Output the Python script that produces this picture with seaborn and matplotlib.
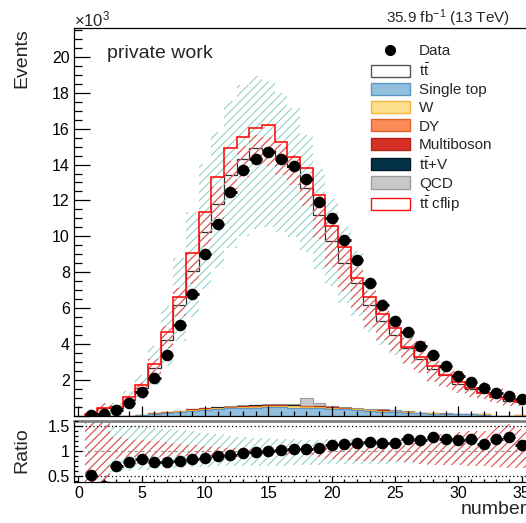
import numpy as np
import matplotlib
matplotlib.use("Agg")
import matplotlib.pyplot as plt
import seaborn as sns
from matplotlib.patches import Patch
from matplotlib.lines import Line2D
from matplotlib.ticker import MultipleLocator, FuncFormatter, FixedLocator

# ---- binning: one bin per integer value ----
bin_centers = np.arange(1, 36)
bin_edges = np.arange(0.5, 36.0, 1.0)

# ---- observed events per bin ----
data = [50, 120, 330, 720, 1330, 2100, 3400, 5050, 6800, 9000,
        10700, 12450, 13700, 14300, 14700, 14300, 13900, 13200, 11900, 11000,
        9800, 8670, 7400, 6200, 5300, 4700, 3900, 3400, 2800, 2200,
        1900, 1550, 1300, 1100, 930]

# ---- simulated backgrounds (stacked, bottom to top) ----
single_top = [0, 0, 0, 5, 40, 110, 170, 240, 300, 350,
              390, 420, 450, 470, 480, 480, 470, 460, 440, 400,
              370, 330, 280, 250, 200, 180, 140, 130, 120, 100,
              90, 80, 0, 0, 0]
w_jets = [0, 0, 0, 0, 5, 10, 15, 20, 25, 30,
          35, 40, 45, 50, 55, 60, 60, 60, 55, 50,
          40, 35, 30, 25, 20, 15, 12, 10, 8, 6,
          5, 4, 0, 0, 40]
drell_yan = [0, 0, 0, 0, 10, 20, 25, 30, 30, 30,
             30, 30, 30, 30, 30, 30, 25, 25, 20, 20,
             20, 20, 25, 25, 15, 10, 10, 5, 5, 0,
             0, 0, 0, 0, 0]
multiboson = [0, 0, 0, 0, 0, 5, 5, 10, 10, 15,
              15, 20, 20, 20, 20, 20, 20, 15, 15, 15,
              10, 10, 10, 10, 5, 5, 5, 0, 0, 0,
              0, 0, 0, 0, 0]
ttv = [0, 0, 0, 0, 0, 0, 5, 5, 10, 10,
       15, 15, 20, 20, 20, 20, 20, 15, 15, 15,
       10, 10, 10, 5, 5, 5, 0, 0, 0, 0,
       0, 0, 0, 0, 0]
qcd = [0, 0, 0, 0, 0, 0, 0, 0, 0, 0,
       0, 10, 20, 30, 50, 60, 100, 450, 200, 60,
       60, 40, 50, 60, 80, 40, 20, 10, 10, 0,
       0, 0, 0, 0, 0]
ttbar = [100, 420, 460, 905, 1505, 2515, 4030, 5895, 7725, 9815,
         11315, 12865, 13715, 14280, 14145, 13730, 13155, 11675, 10455, 9190,
         7990, 6955, 5795, 4925, 4175, 3545, 3013, 2445, 2117, 1694,
         1435, 1266, 1040, 850, 790]

# ---- alternative ttbar prediction (charge flip) ----
ttbar_cflip = [120, 450, 500, 1030, 1700, 2900, 4700, 6650, 9050, 11350,
               13300, 14900, 15550, 16050, 16200, 15250, 14400, 13800, 12300, 10600,
               9400, 7700, 6600, 5700, 4900, 3850, 3300, 2800, 2300, 1900,
               1550, 1280, 1050, 930, 800]

# ---- data / prediction ----
ratio = [0.53, 0.30, 0.71, 0.79, 0.85, 0.79, 0.79, 0.80, 0.84, 0.87,
         0.91, 0.93, 0.97, 0.99, 1.00, 1.03, 1.04, 1.05, 1.07, 1.12,
         1.15, 1.17, 1.19, 1.17, 1.17, 1.24, 1.23, 1.29, 1.24, 1.22,
         1.24, 1.15, 1.25, 1.29, 1.12]

# ---- relative uncertainty bands (edges relative to prediction) ----
red_band_hi = [2.00, 1.70, 1.29, 1.25, 1.22, 1.20, 1.18, 1.15, 1.12, 1.10,
               1.08, 1.06, 1.05, 1.05, 1.05, 1.05, 1.05, 1.05, 1.06, 1.10,
               1.12, 1.12, 1.12, 1.12, 1.12, 1.15, 1.30, 1.35, 1.35, 1.38,
               1.40, 1.40, 1.50, 1.55, 1.45]
red_band_lo = [0.30, 0.30, 0.85, 0.88, 0.88, 0.88, 0.89, 0.90, 0.91, 0.92,
               0.93, 0.93, 0.93, 0.94, 0.94, 0.93, 0.93, 0.92, 0.88, 0.85,
               0.82, 0.80, 0.80, 0.80, 0.80, 0.78, 0.74, 0.72, 0.72, 0.72,
               0.70, 0.70, 0.68, 0.66, 0.66]
teal_band_hi = [1.60, 1.60, 1.52, 1.50, 1.48, 1.46, 1.44, 1.42, 1.40, 1.37,
                1.34, 1.31, 1.29, 1.27, 1.26, 1.25, 1.24, 1.23, 1.23, 1.24,
                1.24, 1.24, 1.23, 1.23, 1.23, 1.24, 1.25, 1.26, 1.27, 1.28,
                1.28, 1.29, 1.30, 1.30, 1.30]
teal_band_lo = [0.40, 0.40, 0.58, 0.60, 0.62, 0.64, 0.66, 0.67, 0.68, 0.69,
                0.70, 0.70, 0.70, 0.70, 0.71, 0.71, 0.72, 0.72, 0.73, 0.74,
                0.74, 0.75, 0.75, 0.75, 0.76, 0.76, 0.76, 0.76, 0.76, 0.76,
                0.76, 0.76, 0.76, 0.76, 0.76]

# ---- style ----
sns.set_theme(style="ticks")
plt.rcParams["font.family"] = ["Liberation Sans", "DejaVu Sans"]
plt.rcParams["mathtext.fontset"] = "custom"
plt.rcParams["mathtext.rm"] = "Liberation Sans"
plt.rcParams["mathtext.it"] = "Liberation Sans:italic"
plt.rcParams["mathtext.bf"] = "Liberation Sans:bold"
plt.rcParams["hatch.linewidth"] = 0.8
plt.rcParams["axes.linewidth"] = 0.9

TEAL = "#8ed3c9"
RED_HATCH = "#f05050"

W, H = 526, 523
fig = plt.figure(figsize=(W / 100, H / 100), dpi=100)


def axes_px(left, top, right, bottom):
    return fig.add_axes([left / W, 1 - bottom / H, (right - left) / W, (bottom - top) / H])


ax = axes_px(74, 28, 528, 416)
axr = axes_px(74, 421, 528, 481.5)

# ---- stacked prediction (drawn THStack-like: totals first, each from zero) ----
layers = [
    ("Single top", single_top, "#93bedd", "#5b97c6"),
    ("W", w_jets, "#fddf8e", "#f2b43a"),
    ("DY", drell_yan, "#fc8d59", "#e0642a"),
    ("Multiboson", multiboson, "#d73027", "#b22418"),
    (r"$\mathrm{t\bar{t}}$+V", ttv, "#023047", "#011d2b"),
    ("QCD", qcd, "#c8c8c8", "#9c9c9c"),
]
cum = np.zeros(len(bin_centers))
cumulative = []
for name, vals, fc, ec in layers:
    cum = cum + np.asarray(vals, float)
    cumulative.append(cum.copy())
mc_total = cum + np.asarray(ttbar, float)

ax.stairs(mc_total, bin_edges, fill=True, facecolor="white", edgecolor="#303030",
          linewidth=0.9, zorder=1)
for (name, vals, fc, ec), c in reversed(list(zip(layers, cumulative))):
    ax.stairs(c, bin_edges, fill=True, facecolor=fc, edgecolor=ec, linewidth=0.8, zorder=1.2)

# uncertainty bands
ax.stairs(mc_total * np.array(teal_band_hi), bin_edges, baseline=mc_total * np.array(teal_band_lo),
          fill=True, facecolor="none", edgecolor=TEAL, hatch="////", linewidth=0, zorder=2)
ax.stairs(mc_total * np.array(red_band_hi), bin_edges, baseline=mc_total * np.array(red_band_lo),
          fill=True, facecolor="none", edgecolor=RED_HATCH, hatch="////", linewidth=0, zorder=2.1)

# alternative prediction
ax.stairs(ttbar_cflip, bin_edges, color="#ff1010", linewidth=1.2, zorder=3)

# data
data_arr = np.asarray(data, float)
ax.errorbar(bin_centers, data_arr, xerr=0.5, yerr=np.sqrt(data_arr), fmt="none",
            ecolor="black", elinewidth=2.0, capsize=0, zorder=4)
sns.scatterplot(x=bin_centers, y=data_arr, ax=ax, color="black", s=70, marker="o",
                edgecolor="black", linewidth=0, zorder=5, legend=False)

ax.set_xlim(-0.35, 35.5)
ax.set_ylim(0, 21600)
ax.yaxis.set_major_locator(MultipleLocator(2000))
ax.yaxis.set_minor_locator(MultipleLocator(500))
ax.yaxis.set_major_formatter(FuncFormatter(lambda v, p: "" if v == 0 else f"{v / 1000:g}"))
ax.xaxis.set_major_locator(MultipleLocator(5))
ax.xaxis.set_minor_locator(MultipleLocator(1))
ax.tick_params(axis="both", which="both", direction="in", top=False, right=False,
               labelbottom=False, width=0.9, colors="black", labelsize=11.5, pad=3)
ax.tick_params(axis="y", which="major", length=11.5)
ax.tick_params(axis="y", which="minor", length=5.8)
ax.tick_params(axis="x", which="major", length=7.2)
ax.tick_params(axis="x", which="minor", length=3.6)
ax.set_axisbelow(False)
for s in ax.spines.values():
    s.set_color("black")
ax.set_xlabel("")
ax.set_ylabel("")

# legend
handles = [Line2D([], [], marker="o", color="black", ls="none", markersize=7)]
labels = ["Data"]
handles.append(Patch(facecolor="white", edgecolor="#555555", linewidth=1.0))
labels.append(r"$\mathrm{t\bar{t}}$")
for name, vals, fc, ec in layers:
    handles.append(Patch(facecolor=fc, edgecolor=ec, linewidth=1.0))
    labels.append(name)
handles.append(Patch(facecolor="white", edgecolor="#ff1010", linewidth=1.0))
labels.append(r"$\mathrm{t\bar{t}}$ cflip")
ax.legend(handles, labels, loc="upper left", bbox_to_anchor=(371 / W, 1 - 44 / H),
          bbox_transform=fig.transFigure, frameon=False, fontsize=11,
          handlelength=2.55, handleheight=0.85, handletextpad=0.6,
          labelspacing=0.25, borderpad=0, borderaxespad=0)

# ---- ratio panel ----
axr.stairs(teal_band_hi, bin_edges, baseline=teal_band_lo, fill=True, facecolor="none",
           edgecolor=TEAL, hatch="////", linewidth=0, zorder=1)
axr.stairs(red_band_hi, bin_edges, baseline=red_band_lo, fill=True, facecolor="none",
           edgecolor=RED_HATCH, hatch="////", linewidth=0, zorder=1.1)
axr.axhline(1.0, color="#909090", lw=0.8, ls=(0, (3, 3)), zorder=1.5)
for yref in (0.5, 1.5):
    axr.axhline(yref, color="black", lw=0.9, ls=(0, (1, 2)), zorder=1.5)

ratio_arr = np.asarray(ratio, float)
axr.errorbar(bin_centers, ratio_arr, xerr=0.5, yerr=ratio_arr / np.sqrt(data_arr), fmt="none",
             ecolor="black", elinewidth=2.0, capsize=0, zorder=4)
sns.scatterplot(x=bin_centers, y=ratio_arr, ax=axr, color="black", s=70, marker="o",
                edgecolor="black", linewidth=0, zorder=5, legend=False)

axr.set_xlim(-0.35, 35.5)
axr.set_ylim(0.39, 1.6)
axr.yaxis.set_major_locator(FixedLocator([0.5, 1.0, 1.5]))
axr.yaxis.set_major_formatter(FuncFormatter(lambda v, p: f"{v:g}"))
axr.yaxis.set_minor_locator(MultipleLocator(0.1))
axr.xaxis.set_major_locator(MultipleLocator(5))
axr.xaxis.set_minor_locator(MultipleLocator(1))
axr.tick_params(axis="both", which="both", direction="in", top=False, right=False,
                width=0.9, colors="black", labelsize=11.5, pad=3)
axr.tick_params(axis="y", which="major", length=6)
axr.tick_params(axis="y", which="minor", length=3)
axr.tick_params(axis="x", which="major", length=4.5)
axr.tick_params(axis="x", which="minor", length=2.2)
axr.set_axisbelow(False)
for s in axr.spines.values():
    s.set_color("black")
axr.spines["top"].set_color("#808080")
axr.spines["top"].set_linewidth(2.0)
axr.set_xlabel("")
axr.set_ylabel("")

# ---- annotations ----
fig.text(74 / W, 1 - 19 / H, r"$\times10^{3}$", fontsize=12, va="center", ha="left")
fig.text(510 / W, 1 - 18 / H, r"35.9 fb$^{-1}$ (13 TeV)", fontsize=11, va="center", ha="right")
fig.text(107 / W, 1 - 54 / H, "private work", fontsize=14, va="center", ha="left")
fig.text(22 / W, 1 - 58 / H, "Events", fontsize=14, rotation=90, va="center", ha="center")
fig.text(22 / W, 1 - 450 / H, "Ratio", fontsize=14, rotation=90, va="center", ha="center")
fig.text(461 / W, 1 - 510 / H, "number", fontsize=14, va="center", ha="left")

fig.savefig("out.png", dpi=100)
